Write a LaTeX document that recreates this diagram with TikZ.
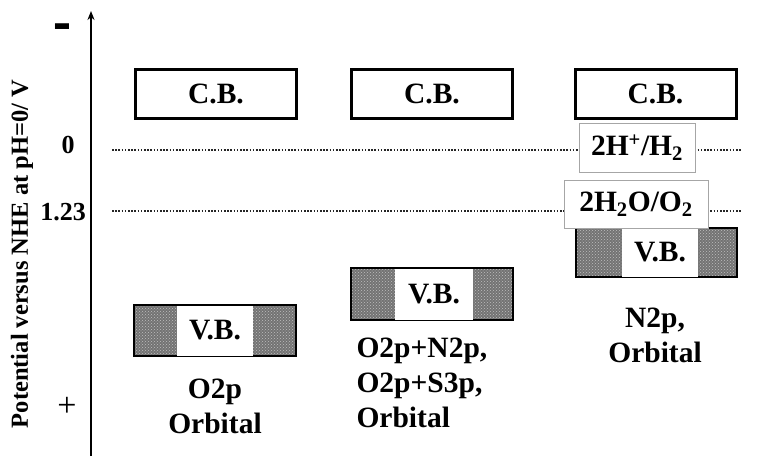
\documentclass[tikz,border=0pt]{standalone}
\usepackage{fontspec}
\setmainfont{Liberation Serif}
\usetikzlibrary{patterns,arrows.meta}
\begin{document}
\begin{tikzpicture}[x=1pt,y=-1pt,
  big/.style={font=\bfseries\fontsize{29.5}{35}\selectfont},
  cb/.style={draw, line width=3pt, minimum width=161pt, minimum height=49pt, inner sep=0pt, fill=white, big},
  vbbox/.style={draw, line width=1.5pt, minimum width=162pt, minimum height=51pt, inner sep=0pt,
     preaction={fill=black!55}, pattern=crosshatch dots, pattern color=white!75!black},
  vbtext/.style={fill=white, minimum width=76pt, minimum height=49pt, inner sep=0pt, big},
  redox/.style={draw=black!35, line width=1pt, fill=white, inner sep=0pt, big},
  level/.style={line width=1.6pt, dash pattern=on 1.6pt off 1.6pt, black!85},
  axislabel/.style={font=\bfseries\fontsize{24.5}{28}\selectfont},
  tick/.style={font=\bfseries\fontsize{26}{26}\selectfont, inner sep=0pt}]
\useasboundingbox (0,0) rectangle (757,460);

% axis
\coordinate (axb) at (91,456);
\coordinate (axt) at (91,11);
\draw[line width=1.6pt, -{Stealth[length=9pt,width=7pt]}] (axb) -- (axt);

% axis texts
\node[font=\bfseries\fontsize{54}{54}\selectfont, inner sep=2pt, anchor=base] (minus) at (62.5,42) {\scalebox{1}[1.25]{-}};
\node[tick] (zero) at (68,145) {0};
\node[tick] (onetwothree) at (63,212) {1.23};
\node[font=\fontsize{34}{34}\selectfont, inner sep=0pt] (plus) at (67,407) {+};
\node[axislabel, rotate=90] (ylabel) at (22,254) {Potential versus NHE at pH=0/ V};

% dotted levels
\coordinate (l0a) at (112,150);
\coordinate (l0b) at (741,150);
\coordinate (l1a) at (112,211);
\coordinate (l1b) at (741,211);
\draw[level] (l0a) -- (l0b);
\draw[level] (l1a) -- (l1b);

% conduction bands
\node[cb] (cb1) at (216,94) {C.B.};
\node[cb] (cb2) at (432,94) {C.B.};
\node[cb] (cb3) at (655.5,94) {C.B.};

% valence bands
\node[vbbox] (vb1) at (215,330.5) {};
\node[vbtext, minimum height=50pt] (vb1t) at (215,330.5) {V.B.};
\node[vbbox, minimum height=52pt] (vb2) at (432,294) {};
\node[vbtext, minimum width=78pt, minimum height=51pt] (vb2t) at (434,294) {V.B.};
\node[vbbox, minimum width=161pt, minimum height=49pt] (vb3) at (656.5,252.5) {};
\node[vbtext, minimum height=48pt] (vb3t) at (660,252.5) {V.B.};

% redox couples
\node[redox, minimum width=116pt, minimum height=49pt] (hh) at (637,147.5) {2H\textsuperscript{+}/H\textsubscript{2}};
\node[redox, minimum width=144pt, minimum height=48pt] (ho) at (636,204) {2H\textsubscript{2}O/O\textsubscript{2}};

% orbital labels
\node[big, align=center] (orb1) at (215,406) {O2p\\Orbital};
\node[big, align=left, anchor=west] (orb2) at (353,383) {O2p+N2p,\\O2p+S3p,\\Orbital};
\node[big, align=center] (orb3) at (655,335) {N2p,\\Orbital};
\end{tikzpicture}
\end{document}
